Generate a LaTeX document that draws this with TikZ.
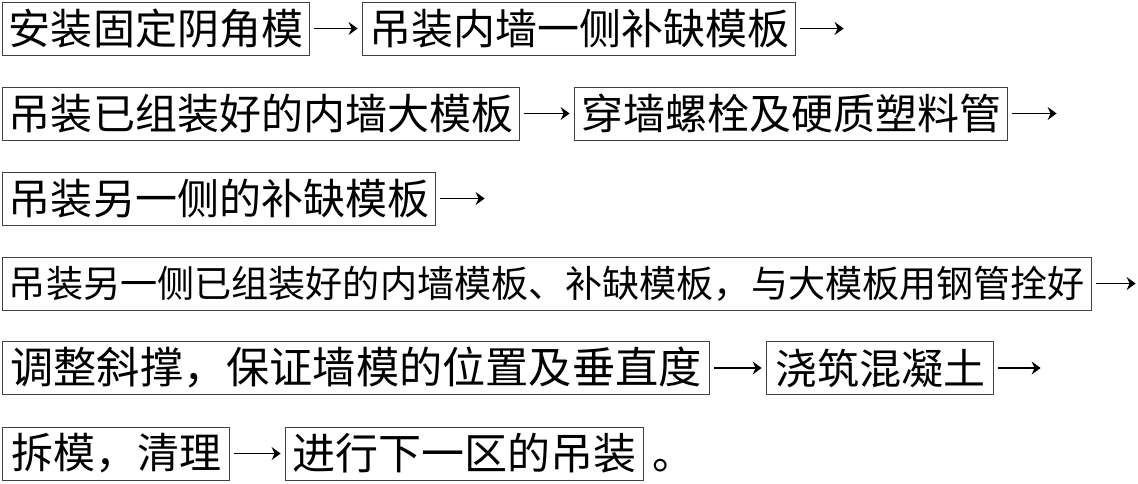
\documentclass[tikz,border=0pt]{standalone}
\usepackage{fontspec}
\setmainfont{Noto Sans CJK SC}
\usetikzlibrary{arrows.meta}

\begin{document}
\begin{tikzpicture}[x=0.5pt,y=-0.5pt,font=\fontsize{21pt}{24pt}\selectfont]
          \tikzstyle{tbox}=[draw=black!75,line width=.5pt,anchor=west,inner xsep=3.25pt,inner ysep=0pt,minimum height=26.5pt]
          \tikzstyle{link}=[draw,line width=.75pt,-{Stealth[length=4.5pt,width=6.5pt,inset=1.5pt]},shorten <=2.2pt,shorten >=2.2pt]
          \useasboundingbox (0,0) rectangle (1138,483);
          % row 1
          \node[tbox] (b1) at (2,28.5) {安装固定阴角模};
          \node[tbox] (b2) at (362,28.5) {吊装内墙一侧补缺模板};
          \coordinate (e1) at (848,28.5);
          % row 2
          \node[tbox] (b3) at (2,113.5) {吊装已组装好的内墙大模板};
          \node[tbox] (b4) at (574,113.5) {穿墙螺栓及硬质塑料管};
          \coordinate (e2) at (1061,113.5);
          % row 3
          \node[tbox] (b5) at (2,198.5) {吊装另一侧的补缺模板};
          \coordinate (e3) at (489,198.5);
          % row 4
          \node[tbox,font=\fontsize{18.55pt}{22pt}\selectfont] (b6) at (2,283.5) {吊装另一侧已组装好的内墙模板、补缺模板，与大模板用钢管拴好};
          \coordinate (e4) at (1140,283.5);
          % row 5
          \node[tbox,font=\fontsize{21.6pt}{24pt}\selectfont,minimum width=353.5pt] (b7) at (2,368) {调整斜撑，保证墙模的位置及垂直度};
          \node[tbox,minimum width=113.5pt] (b8) at (766,368) {浇筑混凝土};
          \coordinate (e5) at (1045,368);
          % row 6
          \node[tbox,minimum width=113.5pt] (b9) at (2,453.5) {拆模，清理};
          \node[tbox,font=\fontsize{21.5pt}{24pt}\selectfont,minimum width=179pt] (b10) at (285,453.5) {进行下一区的吊装};
          \node[anchor=base west,inner sep=0pt,xshift=4pt] (stop) at (b10.base east) {。};
          \foreach \a/\b in {b1/b2,b2/e1,b3/b4,b4/e2,b5/e3,b6/e4,b7/b8,b8/e5,b9/b10}
            \draw[link] (\a) -- (\b);
        \end{tikzpicture}
\end{document}
